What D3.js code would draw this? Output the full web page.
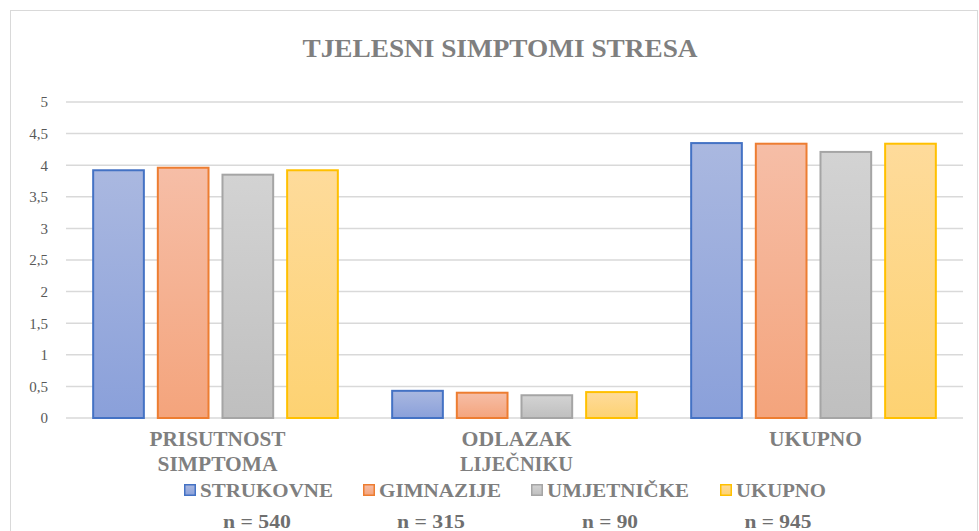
<!DOCTYPE html>
<html><head><meta charset="utf-8">
<script src="https://cdn.jsdelivr.net/npm/d3@7"></script>
<style>body{margin:0;background:#fff}svg{display:block}text{font-family:"Liberation Serif","Times New Roman",serif}</style>
</head><body>
<script>
const categories = [["PRISUTNOST","SIMPTOMA"],["ODLAZAK","LIJEČNIKU"],["UKUPNO"]];
const seriesNames = ["STRUKOVNE","GIMNAZIJE","UMJETNIČKE","UKUPNO"];
const strukovne = [3.92, 0.43, 4.35];
const gimnazije = [3.96, 0.40, 4.34];
const umjetnicke = [3.85, 0.36, 4.21];
const ukupno = [3.92, 0.41, 4.34];
const yTicks = [0,0.5,1,1.5,2,2.5,3,3.5,4,4.5,5];
const nLabels = ["n = 540","n = 315","n = 90","n = 945"];
const title = "TJELESNI SIMPTOMI STRESA";

// styling
const series = [strukovne, gimnazije, umjetnicke, ukupno];
const strokes = ["#4472c4","#ed7d31","#a5a5a5","#ffc000"];
const topFill = ["#aab8e0","#f6bea7","#d3d3d3","#fedb9b"];
const botFill = ["#8aa0da","#f4a47c","#bfbfbf","#fdd272"];
const catWidths = [[136,120],[110,113],[93]];
const legX = [184,363,531,720];
const legW = [133,122,142,90];
const nX = [257,431,610,778];
const nW = [68,68,56,67];

const W=979,H=531;
const svg=d3.select("body").append("svg").attr("width",W).attr("height",H);
const defs=svg.append("defs");
series.forEach((s,i)=>{
  const g=defs.append("linearGradient").attr("id","g"+i).attr("x1",0).attr("y1",0).attr("x2",0).attr("y2",1);
  g.append("stop").attr("offset","0%").attr("stop-color",topFill[i]);
  g.append("stop").attr("offset","100%").attr("stop-color",botFill[i]);
});
svg.append("rect").attr("x",10.5).attr("y",10.5).attr("width",W-12).attr("height",H).attr("fill","#fff").attr("stroke","#d9d9d9");

const L=66,R=963,T=102,B=418;
const y=d3.scaleLinear().domain([0,5]).range([B,T]);
const x0=d3.scaleBand().domain(d3.range(categories.length)).range([L,R]).paddingInner(0.175).paddingOuter(0.0875);
const x1=d3.scaleBand().domain(d3.range(series.length)).range([0,x0.bandwidth()]).paddingInner(0.185);

svg.append("g").selectAll("line").data(yTicks).join("line")
  .attr("x1",L).attr("x2",R).attr("y1",d=>y(d)).attr("y2",d=>y(d))
  .attr("stroke","#d9d9d9").attr("stroke-width",1.5);

const yAxis=svg.append("g").attr("transform",`translate(${L},0)`)
  .call(d3.axisLeft(y).tickValues(yTicks).tickSize(0).tickPadding(18).tickFormat(d=>String(d).replace(".",",")));
yAxis.select(".domain").remove();
yAxis.attr("font-family",null);
yAxis.selectAll("text").attr("font-size",15).attr("fill","#595959");

const gs=svg.append("g").selectAll("g").data(categories).join("g")
  .attr("transform",(d,i)=>`translate(${x0(i)},0)`);
gs.each(function(c,ci){
  d3.select(this).selectAll("rect").data(series.map((s,si)=>({si,v:s[ci]}))).join("rect")
    .attr("x",d=>x1(d.si)+1).attr("width",x1.bandwidth()-2)
    .attr("y",d=>y(d.v)).attr("height",d=>B-y(d.v))
    .attr("fill",d=>`url(#g${d.si})`).attr("stroke",d=>strokes[d.si]).attr("stroke-width",2);
});

function txt(x,yy,t,size,w,anchor,fill){
  return svg.append("text").attr("x",x).attr("y",yy).attr("text-anchor",anchor||"start")
    .attr("font-weight","bold").attr("font-size",size).attr("fill",fill||"#7f7f7f")
    .attr("textLength",w).attr("lengthAdjust","spacingAndGlyphs").text(t);
}

categories.forEach((lines,i)=>{
  lines.forEach((t,li)=>txt(x0(i)+x0.bandwidth()/2+2, 446+li*25, t, 21, catWidths[i][li], "middle"));
});

txt(500, 57, title, 25, 395, "middle");

seriesNames.forEach((n,i)=>{
  svg.append("rect").attr("x",legX[i]+0.75).attr("y",484.75).attr("width",10.5).attr("height",10.5)
    .attr("fill",`url(#g${i})`).attr("stroke",strokes[i]).attr("stroke-width",1.5);
  txt(legX[i]+16, 497, n, 18, legW[i]);
});

nLabels.forEach((t,i)=>txt(nX[i], 528, t, 19, nW[i], "middle", "#6f6f6f"));
</script>
</body></html>
